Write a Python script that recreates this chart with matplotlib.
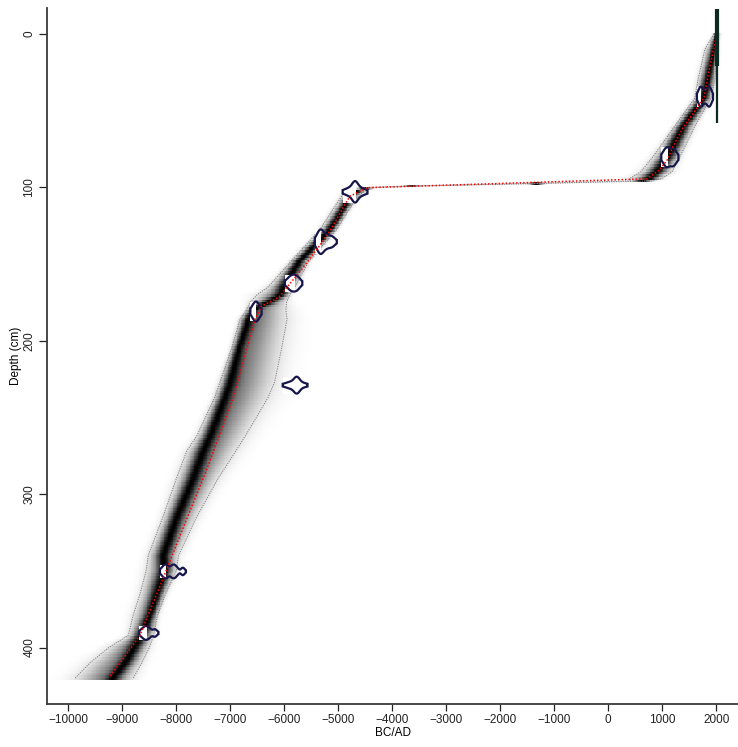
import numpy as np
import matplotlib
matplotlib.use("Agg")
import matplotlib.pyplot as plt
from matplotlib.patches import Rectangle, Polygon

plt.rcParams['font.family'] = ['Liberation Sans', 'DejaVu Sans']

# ---------------- data ----------------
# age-depth model: depth (cm), most likely age, 95% min age, 95% max age (BC/AD)
model_depth = [0, 10, 30, 42, 60, 80, 90, 94.2, 95.9, 97.6, 99.3, 100.3,
               103, 110, 127.5, 149, 165, 170, 175, 180, 186, 205, 227, 237,
               262, 272, 290, 316, 340, 350, 365, 379, 392, 400, 410, 420]
model_mode = [2010, 1960, 1846, 1770, 1390, 1105, 895, 760, 620, -1394, -3710, -4450,
              -4700, -4840, -5150, -5740, -6000, -6060, -6300, -6580, -6660, -6840, -7000, -7100,
              -7370, -7500, -7690, -8000, -8240, -8220, -8360, -8487, -8640, -8780, -8950, -9180]
model_min = [1955, 1790, 1660, 1600, 1235, 830, 600, 400, 420, -1520, -3830, -4560,
             -4880, -5020, -5339, -5894, -6300, -6500, -6636, -6700, -6820, -6975, -7191, -7290,
             -7620, -7808, -8000, -8260, -8520, -8560, -8672, -8800, -8890, -9250, -9600, -9876]
model_max = [2022, 2015, 1975, 1900, 1605, 1330, 1180, 1000, 820, -1270, -3590, -4350,
             -4540, -4720, -5030, -5560, -5800, -5900, -5960, -5970, -5950, -6050, -6180, -6300,
             -6720, -6900, -7230, -7640, -7960, -8000, -8200, -8350, -8420, -8500, -8640, -8800]

# weighted mean age-depth curve (red)
mean_depth = [0, 21, 42, 61, 73, 82, 88.5, 94.5, 100.3, 105.8, 131.9, 153.5, 172, 177.4,
              186, 205.6, 237, 284, 327, 349, 392, 419]
mean_age = [2010, 1883, 1770, 1389, 1204, 1095, 957, 720, -4450, -4785, -5215, -5678, -6111,
            -6420, -6540, -6697, -6944, -7437, -7931, -8178, -8672, -9228]

# calibrated dates: depth, and peaks of their distribution (age, sd, weight)
date_depth = [41, 80.5, 103, 135.5, 162.5, 181, 229, 350.4, 390.5]
date_peaks = [
    [(1710, 30, 1.0), (1870, 30, 1.0), (1790, 60, 0.5)],
    [(1085, 45, 1.0), (1195, 45, 0.8)],
    [(-4690, 40, 1.0), (-4690, 100, 0.35)],
    [(-5330, 45, 1.0), (-5250, 80, 0.4), (-5120, 40, 0.12)],
    [(-5850, 60, 1.0), (-5770, 45, 0.5)],
    [(-6525, 45, 1.0)],
    [(-5770, 40, 1.0), (-5800, 100, 0.3)],
    [(-8200, 45, 1.0), (-8050, 45, 1.0), (-7880, 25, 0.25)],
    [(-8560, 55, 1.0), (-8400, 30, 0.25)],
]
date_halfheight = [6.5, 6.5, 7, 8, 5.5, 6.5, 5.5, 4.5, 4.5]

# surface / other marker (dark bar at top right)
bar_age = 2008
bar_thick_depth = [-16, 21]
bar_thin_depth = [21, 58]

xticks = list(range(-10000, 2001, 1000))
yticks = [0, 100, 200, 300, 400]

# ---------------- figure ----------------
W, H = 738, 747
fig = plt.figure(figsize=(W / 100, H / 100), dpi=100)
ax = fig.add_axes([47 / W, 43 / H, 691 / W, 696 / H])
ax.set_xlim(-10395, 2402)
ax.set_ylim(436.8, -16.8)

# greyscale of the model
row_step = 1.7
rows = np.arange(0.65, 421, row_step)
age_edges = np.arange(-10500, 2430, 15.0)
age_c = 0.5 * (age_edges[:-1] + age_edges[1:])
mode_r = np.interp(rows, model_depth, model_mode)
min_r = np.interp(rows, model_depth, model_min)
max_r = np.interp(rows, model_depth, model_max)
Z = np.zeros((len(rows), len(age_c)))
for i in range(len(rows)):
    sl = max((mode_r[i] - min_r[i]) / 1.96, 15)
    sr = max((max_r[i] - mode_r[i]) / 1.96, 15)
    d = age_c - mode_r[i]
    s = np.where(d < 0, sl, sr)
    broad = np.exp(-0.5 * (d / s) ** 2)
    sc = min(90.0, 0.7 * min(sl, sr) + 25)
    narrow = np.exp(-0.5 * (d / sc) ** 2)
    Z[i] = (0.45 * narrow + 0.55 * broad) ** 0.9
y_edges = np.concatenate([rows - row_step / 2, [rows[-1] + row_step / 2]])
ax.pcolormesh(age_edges, y_edges, Z, cmap='gray_r', vmin=0, vmax=1, shading='flat',
              zorder=1, rasterized=True)

# 95% range lines
ax.plot(model_min, model_depth, color='#808080', ls=(0, (1.2, 1.2)), lw=0.7, zorder=3)
ax.plot(model_max, model_depth, color='#808080', ls=(0, (1.2, 1.2)), lw=0.7, zorder=3)

# dates
navy = '#16164a'
for dep, peaks, hh in zip(date_depth, date_peaks, date_halfheight):
    lo = min(p[0] - 2.3 * p[1] for p in peaks)
    hi = max(p[0] + 2.3 * p[1] for p in peaks)
    a = np.linspace(lo, hi, 200)
    dens = sum(w * np.exp(-0.5 * ((a - m) / s) ** 2) for m, s, w in peaks)
    dens = (dens / dens.max()) ** 0.45
    ctr = a[np.argmax(dens)]
    ax.add_patch(Rectangle((lo, dep - hh), (ctr - lo) * 1.1, 2 * hh, facecolor='white',
                           edgecolor='none', zorder=4))
    xs = np.concatenate([a, a[::-1]])
    ys = np.concatenate([dep - hh * dens, (dep + hh * dens)[::-1]])
    ax.add_patch(Polygon(np.column_stack([xs, ys]), closed=True, facecolor='none',
                         edgecolor=navy, lw=1.6, zorder=5))

# mean line
ax.plot(mean_age, mean_depth, color='red', ls=(0, (1, 1.3)), lw=1.1, zorder=6)

# dark bar top right
ax.plot([bar_age, bar_age], bar_thick_depth, color='#0d2a22', lw=3.0, solid_capstyle='butt', zorder=7)
ax.plot([bar_age, bar_age], bar_thin_depth, color='#0d2a22', lw=1.6, solid_capstyle='butt', zorder=7)

# axes styling (R base style)
for s in ['top', 'right']:
    ax.spines[s].set_visible(False)
for s in ['left', 'bottom']:
    ax.spines[s].set_color('#3a3a3a')
    ax.spines[s].set_linewidth(1.3)
ax.set_xticks(xticks)
ax.set_xticklabels([("\u2212" + str(abs(t))) if t < 0 else str(t) for t in xticks])
ax.set_yticks(yticks)
ax.set_yticklabels([str(t) for t in yticks], rotation=90, va='center')
ax.tick_params(axis='x', direction='out', length=5, width=0.9, pad=2.5, labelsize=8.5,
               colors='#222222')
ax.tick_params(axis='y', direction='out', length=5.8, width=0.9, pad=2.5, labelsize=8.5,
               colors='#222222')
ax.set_xlabel('BC/AD', fontsize=8.5, labelpad=0.5)
ax.set_ylabel('Depth (cm)', fontsize=8.5, labelpad=1)

fig.savefig('out.png', dpi=100)
